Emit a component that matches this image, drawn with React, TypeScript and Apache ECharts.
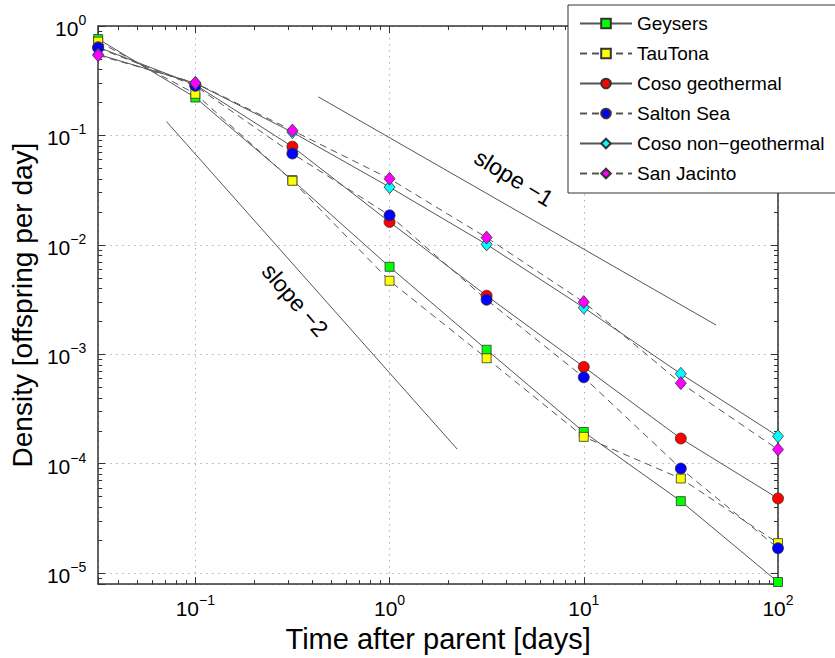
import React, { useEffect, useRef } from 'react';
import * as echarts from 'echarts';

// Time after parent [days]
const timeDays = [0.0316, 0.1, 0.316, 1, 3.16, 10, 31.6, 100];

// Density [offspring per day]
const geysers = [0.76, 0.222, 0.039, 0.0063, 0.0011, 0.000195, 0.0000455, 0.0000083];
const tauTona = [0.72, 0.24, 0.0385, 0.0047, 0.00092, 0.000176, 0.0000733, 0.0000188];
const cosoGeothermal = [0.64, 0.29, 0.079, 0.0162, 0.00343, 0.000767, 0.00017, 0.0000482];
const saltonSea = [0.63, 0.284, 0.0683, 0.0186, 0.00315, 0.000616, 0.0000904, 0.0000169];
const cosoNonGeothermal = [0.55, 0.3, 0.107, 0.0337, 0.0101, 0.00267, 0.000663, 0.000178];
const sanJacinto = [0.54, 0.302, 0.111, 0.0402, 0.01165, 0.003, 0.000545, 0.000135];

// reference slope lines
const slope1X = [0.43, 48];
const slope1Y = [0.225, 0.00185];
const slope2X = [0.071, 2.23];
const slope2Y = [0.134, 0.000136];

const seriesNames = ['Geysers', 'TauTona', 'Coso geothermal', 'Salton Sea', 'Coso non−geothermal', 'San Jacinto'];
const seriesValues = [geysers, tauTona, cosoGeothermal, saltonSea, cosoNonGeothermal, sanJacinto];
const seriesColors = ['#00ff00', '#ffff00', '#ff0000', '#0000ff', '#00ffff', '#ff00ff'];
const seriesSymbols = ['rect', 'rect', 'circle', 'circle', 'diamond', 'diamond'];
const seriesDashed = [false, true, false, true, false, true];

const FONT = '"Liberation Sans", Arial, Helvetica, sans-serif';

const powFormatter = (v: number) => {
  const e = Math.log10(v);
  const r = Math.round(e);
  if (Math.abs(e - r) > 1e-6) return '';
  return `{b|10}{s|${r < 0 ? '−' + -r : r}}`;
};

const labelRich = {
  b: { fontSize: 21, fontFamily: FONT, color: '#000', verticalAlign: 'bottom', padding: [5, 0, 0, 0] },
  s: { fontSize: 14, fontFamily: FONT, color: '#000', verticalAlign: 'top' },
};

const symbolSizes: Record<string, any> = { rect: 9, circle: 11, diamond: [11, 13] };

export default function App() {
  const ref = useRef<HTMLDivElement>(null);

  useEffect(() => {
    document.body.style.margin = '0';
    if (!ref.current) return;
    const chart = echarts.init(ref.current, undefined, { renderer: 'svg' });

    const axisCommon = {
      type: 'log' as const,
      logBase: 10,
      axisLine: { show: true, onZero: false, lineStyle: { color: '#333', width: 1.5 } },
      axisTick: { show: true, inside: true, length: 7, lineStyle: { color: '#333', width: 1 } },
      minorTick: { show: true, splitNumber: 9, length: 4, lineStyle: { color: '#333', width: 1 } },
    };

    const dataSeries = seriesNames.map((name, k) => ({
      name,
      type: 'line',
      data: timeDays.map((x, i) => [x, seriesValues[k][i]]),
      symbol: seriesSymbols[k],
      symbolSize: symbolSizes[seriesSymbols[k]],
      clip: false,
      lineStyle: { color: '#555', width: 1, type: seriesDashed[k] ? [7, 5] : 'solid' },
      itemStyle: { color: seriesColors[k], borderColor: '#333', borderWidth: 0.8 },
      emphasis: { disabled: true },
      z: 3 + k,
    }));

    const slopeSeries = [
      { name: 'slope1', xs: slope1X, ys: slope1Y },
      { name: 'slope2', xs: slope2X, ys: slope2Y },
    ].map((s) => ({
      name: s.name,
      type: 'line',
      data: s.xs.map((x, i) => [x, s.ys[i]]),
      symbol: 'none',
      silent: true,
      lineStyle: { color: '#555', width: 1 },
      emphasis: { disabled: true },
      z: 2,
    }));

    chart.setOption({
      animation: false,
      backgroundColor: '#fff',
      textStyle: { fontFamily: FONT },
      grid: { left: 97, right: 57, top: 26, bottom: 72, containLabel: false },
      xAxis: [
        {
          ...axisCommon,
          position: 'bottom',
          min: Math.pow(10, -1.5),
          max: 100,
          axisLabel: { formatter: powFormatter, margin: 9, rich: labelRich, interval: 0 },
          splitLine: { show: true, lineStyle: { color: '#b0b0b0', width: 1, type: [1.5, 4.5] } },
          name: 'Time after parent [days]',
          nameLocation: 'middle',
          nameGap: 36,
          nameTextStyle: { fontSize: 29, color: '#000', fontFamily: FONT },
        },
        {
          ...axisCommon,
          position: 'top',
          min: Math.pow(10, -1.5),
          max: 100,
          axisLabel: { show: false },
          splitLine: { show: false },
        },
      ],
      yAxis: [
        {
          ...axisCommon,
          position: 'left',
          min: Math.pow(10, -5.1),
          max: 1,
          axisLabel: { formatter: powFormatter, margin: 12, rich: labelRich, interval: 0 },
          splitLine: { show: true, lineStyle: { color: '#b0b0b0', width: 1, type: [1.5, 4.5] } },
          name: 'Density [offspring per day]',
          nameLocation: 'middle',
          nameGap: 58,
          nameTextStyle: { fontSize: 28, color: '#000', fontFamily: FONT },
        },
        {
          ...axisCommon,
          position: 'right',
          min: Math.pow(10, -5.1),
          max: 1,
          axisLabel: { show: false },
          splitLine: { show: false },
        },
      ],
      legend: {
        data: seriesNames,
        orient: 'vertical',
        left: 568,
        top: 5,
        padding: [9, 14, 10, 11],
        itemWidth: 52,
        itemHeight: 12,
        itemGap: 11,
        backgroundColor: '#fff',
        borderColor: '#333',
        borderWidth: 1,
        borderRadius: 0,
        selectedMode: false,
        textStyle: { fontSize: 19, color: '#000', fontFamily: FONT },
      },
      graphic: [
        {
          type: 'text',
          x: 514,
          y: 178,
          rotation: -0.55,
          style: { text: 'slope −1', fontSize: 23, fill: '#000', align: 'center', verticalAlign: 'middle', fontFamily: FONT },
          z: 10,
        },
        {
          type: 'text',
          x: 295,
          y: 300,
          rotation: -0.86,
          style: { text: 'slope −2', fontSize: 23, fill: '#000', align: 'center', verticalAlign: 'middle', fontFamily: FONT },
          z: 10,
        },
      ],
      series: [...slopeSeries, ...dataSeries],
    });

    return () => chart.dispose();
  }, []);

  return <div ref={ref} style={{ width: 835, height: 658 }} />;
}
